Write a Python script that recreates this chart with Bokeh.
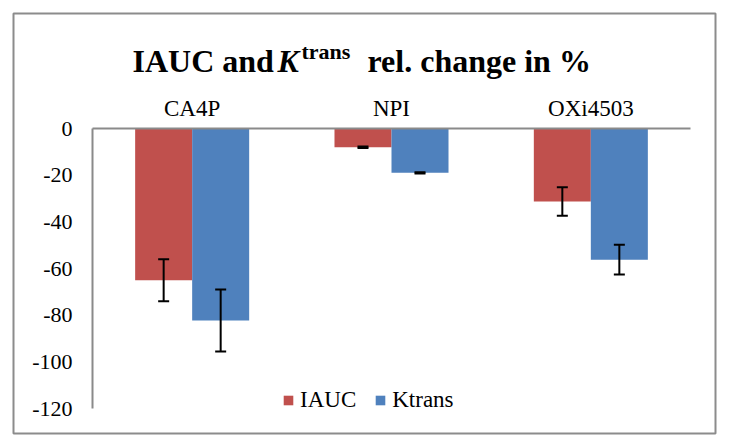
from bokeh.plotting import figure
from bokeh.models import (ColumnDataSource, Range1d, LinearAxis, FixedTicker)
from bokeh.transform import dodge
from bokeh.core.properties import value
from bokeh.embed import file_html
from bokeh.resources import INLINE

# ---- data ----
categories = ["CA4P", "NPI", "OXi4503"]
series = ["IAUC", "Ktrans"]
iauc = [-65.0, -8.0, -31.3]
iauc_err = [9.0, 0.3, 6.1]
ktrans = [-82.3, -19.0, -56.2]
ktrans_err = [13.3, 0.3, 6.4]
y_ticks = [0, -20, -40, -60, -80, -100, -120]
title_parts = ["IAUC and", "K", "trans", "rel. change in %"]

colors = ["#C0504D", "#4F81BD"]
FONT = "Liberation Serif"   # for text glyphs
AX_FONT = "serif"           # for axis / legend labels

xc = [i + 0.5 for i in range(len(categories))]
src = ColumnDataSource(dict(
    xc=xc, cat=categories,
    iauc=iauc, ktrans=ktrans,
    iauc_lo=[v - e for v, e in zip(iauc, iauc_err)],
    iauc_hi=[v + e for v, e in zip(iauc, iauc_err)],
    ktrans_lo=[v - e for v, e in zip(ktrans, ktrans_err)],
    ktrans_hi=[v + e for v, e in zip(ktrans, ktrans_err)],
))

p = figure(x_range=Range1d(-0.3963, 3.1254),
           y_range=Range1d(-130.71, 49.29),
           width=724, height=440, output_backend="svg", toolbar_location=None,
           x_axis_location=None, y_axis_location=None,
           min_border_left=13, min_border_right=9,
           min_border_top=13, min_border_bottom=7)
p.outline_line_color = "#8c8c8c"
p.outline_line_width = 2
p.xgrid.visible = False
p.ygrid.visible = False
p.background_fill_color = "white"
p.border_fill_color = "white"

# y axis (placed at the left edge of the category band)
yaxis = LinearAxis(bounds=(-120, 0), ticker=FixedTicker(ticks=y_ticks),
                   fixed_location=0,
                   major_label_overrides={t: str(t) for t in y_ticks})
yaxis.axis_line_color = "#8a8a8a"
yaxis.axis_line_width = 2
yaxis.major_tick_line_color = None
yaxis.minor_tick_line_color = None
yaxis.major_tick_out = 0
yaxis.major_tick_in = 0
yaxis.major_label_standoff = 20
yaxis.major_label_text_font = AX_FONT
yaxis.major_label_text_font_size = "22px"
yaxis.major_label_text_color = "black"
p.add_layout(yaxis, "left")

# category axis at y = 0
xaxis = LinearAxis(bounds=(0, len(categories)), fixed_location=0,
                   ticker=FixedTicker(ticks=xc),
                   major_label_overrides={x: c for x, c in zip(xc, categories)})
xaxis.axis_line_color = "#8a8a8a"
xaxis.axis_line_width = 2
xaxis.major_tick_line_color = None
xaxis.minor_tick_line_color = None
xaxis.major_tick_out = 0
xaxis.major_tick_in = 0
xaxis.major_label_standoff = 8
xaxis.major_label_text_font = AX_FONT
xaxis.major_label_text_font_size = "23px"
xaxis.major_label_text_color = "black"
p.add_layout(xaxis, "above")

# bars
off = 0.143
w = 0.286
p.vbar(x=dodge("xc", -off), top=0, bottom="iauc", width=w,
       source=src, fill_color=colors[0], line_color=None, legend_label=series[0])
p.vbar(x=dodge("xc", off), top=0, bottom="ktrans", width=w,
       source=src, fill_color=colors[1], line_color=None, legend_label=series[1])

# error bars
for o, col in [(-off, "iauc"), (off, "ktrans")]:
    xs = dodge("xc", o)
    p.segment(x0=xs, x1=xs, y0=col + "_lo", y1=col + "_hi", source=src,
              line_color="black", line_width=2)
    for end in ("_lo", "_hi"):
        p.scatter(x=xs, y=col + end, source=src, marker="dash", size=11,
                  line_color="black", line_width=2)

# title (rich text: italic K with superscript)
t_y = 29.1
common = dict(text_font=value(FONT), text_baseline="alphabetic",
              text_align="left", text_color="black")
p.text(x=[0], y=[t_y], text=[title_parts[0]], x_offset=40,
       text_font_style="bold", text_font_size="32px", **common)
p.text(x=[0], y=[t_y], text=[title_parts[1]], x_offset=185,
       text_font_style="bold italic", text_font_size="32px", **common)
p.text(x=[0], y=[33.0], text=[title_parts[2]], x_offset=209,
       text_font_style="bold", text_font_size="22px", **common)
p.text(x=[0], y=[t_y], text=[title_parts[3]], x_offset=275,
       text_font_style="bold", text_font_size="32px", **common)

# legend
lg = p.legend[0]
lg.orientation = "horizontal"
lg.location = (269, 20)
lg.label_text_font = AX_FONT
lg.label_text_font_size = "23px"
lg.label_text_color = "black"
lg.glyph_width = 12
lg.glyph_height = 12
lg.label_standoff = 6
lg.spacing = 18
lg.padding = 0
lg.margin = 0
lg.border_line_color = None
lg.background_fill_alpha = 0

open("out.html", "w").write(file_html(p, INLINE))
